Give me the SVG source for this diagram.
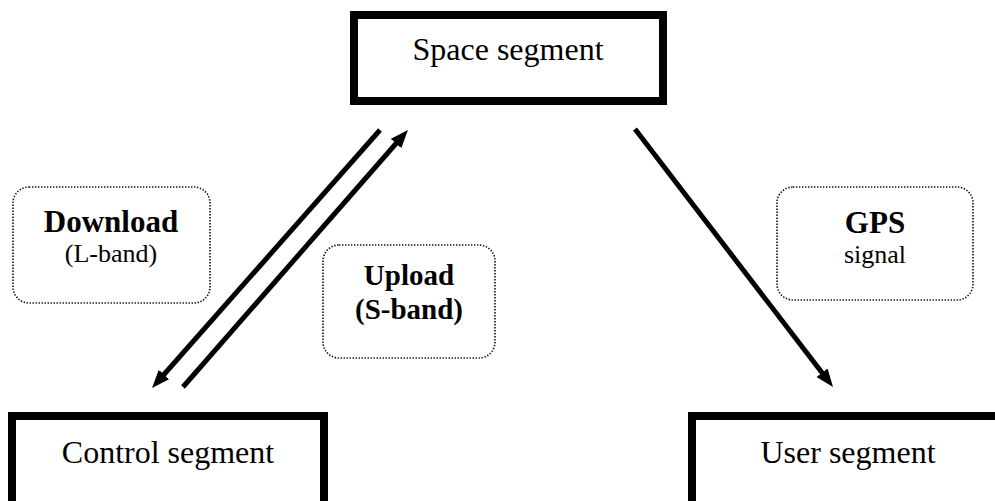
<svg xmlns="http://www.w3.org/2000/svg" width="995" height="501" viewBox="0 0 995 501">
<defs>
<marker id="ah" markerUnits="userSpaceOnUse" markerWidth="20" markerHeight="16" refX="6" refY="7" orient="auto">
<path d="M0,0 L18,7 L0,14 z" fill="#000"/>
</marker>
<style>
.seg{fill:#fff;stroke:#000;stroke-width:8}
.lab{fill:#fff;stroke:#111;stroke-width:1.6;stroke-dasharray:1.4 1.6}
.t{font-family:"Liberation Serif","Times New Roman",serif;fill:#000;text-anchor:middle}
.big{font-size:32px}
.b{font-size:31px;font-weight:bold}
.bu{font-size:29px;font-weight:bold}
.s{font-size:26px}
.c{stroke:#000;stroke-width:5;fill:none;marker-end:url(#ah)}
</style>
</defs>
<rect width="995" height="501" fill="#fff"/>
<g id="space">
<rect class="seg" x="354" y="15" width="309" height="86"/>
<text class="t big" x="508" y="60">Space segment</text>
</g>
<g id="control">
<rect class="seg" x="12" y="416" width="312" height="100"/>
<text class="t big" x="168" y="463">Control segment</text>
</g>
<g id="user">
<rect class="seg" x="692" y="416" width="312" height="100"/>
<text class="t big" x="848" y="463">User segment</text>
</g>
<g id="download">
<rect class="lab" x="13" y="187" width="197" height="116" rx="16"/>
<text class="t b" x="111" y="232">Download</text>
<text class="t s" x="111" y="262">(L-band)</text>
</g>
<g id="upload">
<rect class="lab" x="323" y="245" width="172" height="113" rx="16"/>
<text class="t bu" x="409" y="285">Upload</text>
<text class="t bu" x="409" y="319">(S-band)</text>
</g>
<g id="gps">
<rect class="lab" x="777" y="187" width="196" height="113" rx="16"/>
<text class="t b" x="875" y="233">GPS</text>
<text class="t s" x="875" y="263">signal</text>
</g>
<g id="connectors">
<line class="c" x1="380" y1="130" x2="160" y2="379"/>
<line class="c" x1="183" y1="387" x2="400" y2="139"/>
<line class="c" x1="635" y1="129" x2="825.7" y2="377.5"/>
</g>
</svg>
